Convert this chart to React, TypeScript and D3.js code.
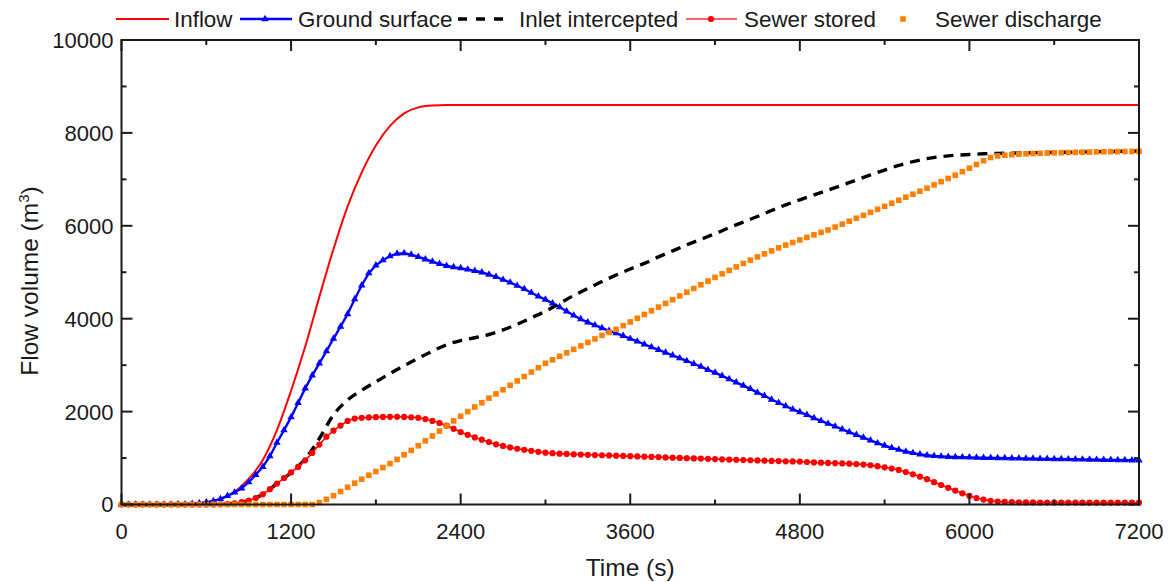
import React from 'react';
import * as d3 from 'd3';

const W = 1169;
const H = 582;

// time grids (s)
const timeFine = d3.range(0, 7201, 50);
const timeCoarse = d3.range(0, 7201, 100);

// Inflow (m3), every 100 s
const inflow = [
  0, 0, 0, 3, 10, 22, 45, 115, 270, 550,
  960, 1600, 2450, 3400, 4470, 5500, 6420, 7150, 7730, 8150,
  8420, 8550, 8590, 8600, 8600, 8600, 8600, 8600, 8600, 8600,
  8600, 8600, 8600, 8600, 8600, 8600, 8600, 8600, 8600, 8600,
  8600, 8600, 8600, 8600, 8600, 8600, 8600, 8600, 8600, 8600,
  8600, 8600, 8600, 8600, 8600, 8600, 8600, 8600, 8600, 8600,
  8600, 8600, 8600, 8600, 8600, 8600, 8600, 8600, 8600, 8600,
  8600, 8600, 8600,
];

// Inlet intercepted (m3), every 100 s
const inletIntercepted = [
  0, 0, 0, 0, 0, 0, 2, 10, 25, 85,
  220, 450, 690, 980, 1420, 1930, 2250, 2460, 2640, 2820,
  2990, 3150, 3300, 3440, 3530, 3590, 3660, 3760, 3880, 4020,
  4160, 4330, 4500, 4650, 4800, 4940, 5070, 5190, 5330, 5460,
  5590, 5710, 5830, 5960, 6080, 6200, 6330, 6450, 6560, 6665,
  6770, 6875, 6985, 7095, 7200, 7300, 7380, 7445, 7490, 7518,
  7535, 7550, 7560, 7565, 7570, 7575, 7580, 7585, 7590, 7595,
  7600, 7605, 7610,
];

// Ground surface (m3), every 50 s
const groundSurface = [
  0, 0, 0, 0, 0, 0, 0, 0, 2, 6,
  15, 30, 50, 75, 120, 185, 260, 350, 480, 640,
  810, 1040, 1330, 1600, 1880, 2190, 2500, 2780, 3040, 3300,
  3570, 3830, 4100, 4420, 4720, 4980, 5150, 5260, 5350, 5400,
  5410, 5380, 5330, 5280, 5230, 5180, 5140, 5110, 5090, 5060,
  5030, 5000, 4950, 4900, 4840, 4780, 4710, 4640, 4560, 4480,
  4410, 4330, 4250, 4160, 4070, 3990, 3920, 3860, 3800, 3740,
  3690, 3630, 3570, 3510, 3450, 3390, 3330, 3270, 3210, 3150,
  3090, 3030, 2970, 2900, 2840, 2770, 2700, 2630, 2560, 2490,
  2410, 2340, 2260, 2190, 2120, 2050, 1990, 1930, 1860, 1800,
  1740, 1680, 1620, 1560, 1500, 1440, 1380, 1320, 1270, 1220,
  1180, 1140, 1110, 1080, 1060, 1045, 1035, 1028, 1022, 1018,
  1014, 1010, 1006, 1003, 1000, 998, 995, 993, 990, 988,
  985, 983, 980, 978, 975, 973, 970, 968, 965, 962,
  960, 957, 955, 952, 950,
];

// Sewer stored (m3), every 50 s
const sewerStored = [
  0, 0, 0, 0, 0, 0, 0, 0, 0, 0,
  0, 0, 0, 2, 5, 10, 25, 50, 85, 140,
  220, 330, 450, 570, 690, 810, 950, 1110, 1290, 1460,
  1590, 1700, 1800, 1850, 1865, 1875, 1880, 1885, 1888, 1888,
  1885, 1878, 1866, 1840, 1800, 1755, 1700, 1630, 1560, 1500,
  1445, 1395, 1345, 1295, 1260, 1228, 1200, 1178, 1155, 1133,
  1115, 1105, 1095, 1088, 1080, 1075, 1070, 1065, 1060, 1056,
  1052, 1046, 1040, 1035, 1030, 1025, 1020, 1014, 1008, 1003,
  998, 993, 988, 983, 978, 973, 968, 963, 958, 953,
  948, 943, 938, 934, 930, 927, 924, 915, 905, 900,
  895, 890, 885, 878, 870, 860, 845, 825, 800, 775,
  745, 700, 650, 600, 545, 480, 420, 360, 300, 240,
  185, 140, 105, 80, 65, 55, 50, 47, 45, 44,
  43, 42, 42, 41, 41, 41, 40, 40, 40, 40,
  40, 40, 40, 40, 40,
];

// Sewer discharge (m3), every 50 s
const sewerDischarge = [
  0, 0, 0, 0, 0, 0, 0, 0, 0, 0,
  0, 0, 0, 0, 0, 0, 0, 0, 0, 0,
  0, 0, 0, 0, 0, 0, 0, 0, 40, 110,
  190, 280, 370, 460, 545, 630, 710, 795, 880, 970,
  1070, 1165, 1265, 1370, 1475, 1580, 1690, 1800, 1900, 2000,
  2100, 2190, 2290, 2380, 2470, 2565, 2660, 2755, 2850, 2945,
  3040, 3115, 3190, 3265, 3340, 3415, 3490, 3565, 3640, 3705,
  3770, 3850, 3930, 4010, 4090, 4170, 4250, 4330, 4410, 4490,
  4570, 4650, 4730, 4810, 4890, 4965, 5040, 5115, 5190, 5260,
  5330, 5395, 5460, 5525, 5585, 5640, 5695, 5750, 5805, 5858,
  5910, 5973, 6036, 6099, 6162, 6225, 6290, 6355, 6420, 6485,
  6550, 6615, 6680, 6745, 6810, 6880, 6950, 7020, 7090, 7165,
  7240, 7320, 7400, 7470, 7505, 7520, 7532, 7542, 7550, 7556,
  7561, 7566, 7570, 7574, 7578, 7582, 7585, 7588, 7591, 7594,
  7596, 7598, 7600, 7602, 7604,
];

const xTicks = [0, 1200, 2400, 3600, 4800, 6000, 7200];
const xMinorTicks = [600, 1800, 3000, 4200, 5400, 6600];
const yTicks = [0, 2000, 4000, 6000, 8000, 10000];
const yMinorTicks = [1000, 3000, 5000, 7000, 9000];
const legendLabels = ['Inflow', 'Ground surface', 'Inlet intercepted', 'Sewer stored', 'Sewer discharge'];

const FONT = '"Liberation Sans", Arial, Helvetica, sans-serif';
const TEXT = '#1a1a1a';
const AXIS = '#1a1a1a';
const RED = '#ff0000';
const BLUE = '#0000ff';
const ORANGE = '#ff8000';

export default function App() {
  const left = 121.5, right = 1139, top = 40, bottom = 504.5;
  const x = d3.scaleLinear().domain([0, 7200]).range([left, right]);
  const y = d3.scaleLinear().domain([0, 10000]).range([bottom, top]);

  const zip = (t: number[], v: number[]) => t.map((tt, i) => [tt, v[i]] as [number, number]);
  const inflowPts = zip(timeCoarse, inflow);
  const inletPts = zip(timeCoarse, inletIntercepted);
  const groundPts = zip(timeFine, groundSurface);
  const storedPts = zip(timeFine, sewerStored);
  const dischargePts = zip(timeFine, sewerDischarge);

  const smooth = d3.line<[number, number]>().x(d => x(d[0])).y(d => y(d[1])).curve(d3.curveMonotoneX);
  const straight = d3.line<[number, number]>().x(d => x(d[0])).y(d => y(d[1]));
  const tri = d3.symbol().type(d3.symbolTriangle).size(24)() as string;

  const majorLen = 11, minorLen = 5;
  const legY = 19;
  const legBase = 27;

  return (
    <svg width={W} height={H} style={{ position: 'absolute', left: 0, top: 0, background: '#fff' }}
      fontFamily={FONT}>
      <rect x={0} y={0} width={W} height={H} fill="#fff" />

      {/* series */}
      <path d={smooth(inflowPts) as string} fill="none" stroke={RED} strokeWidth={2} />
      <path d={straight(groundPts) as string} fill="none" stroke={BLUE} strokeWidth={2.4} />
      {groundPts.map((d, i) => (
        <path key={'g' + i} d={tri} transform={`translate(${x(d[0])},${y(d[1])})`} fill={BLUE} />
      ))}
      <path d={smooth(inletPts) as string} fill="none" stroke="#000" strokeWidth={3.4} strokeDasharray="10,7" />
      <path d={straight(storedPts) as string} fill="none" stroke={RED} strokeWidth={1.5} />
      {storedPts.map((d, i) => (
        <circle key={'s' + i} cx={x(d[0])} cy={y(d[1])} r={3.1} fill={RED} />
      ))}
      {dischargePts.map((d, i) => (
        <rect key={'d' + i} x={x(d[0]) - 2.8} y={y(d[1]) - 2.8} width={5.6} height={5.6} fill={ORANGE} />
      ))}

      {/* frame */}
      <rect x={left} y={top} width={right - left} height={bottom - top} fill="none" stroke={AXIS} strokeWidth={2} />
      {xTicks.map(t => (
        <g key={'xt' + t}>
          <line x1={x(t)} x2={x(t)} y1={bottom} y2={bottom - majorLen} stroke={AXIS} strokeWidth={2} />
          <line x1={x(t)} x2={x(t)} y1={top} y2={top + majorLen} stroke={AXIS} strokeWidth={2} />
          <text x={x(t)} y={538.5} textAnchor="middle" fontSize={22} fill={TEXT}>{t}</text>
        </g>
      ))}
      {xMinorTicks.map(t => (
        <g key={'xm' + t}>
          <line x1={x(t)} x2={x(t)} y1={bottom} y2={bottom - minorLen} stroke={AXIS} strokeWidth={2} />
          <line x1={x(t)} x2={x(t)} y1={top} y2={top + minorLen} stroke={AXIS} strokeWidth={2} />
        </g>
      ))}
      {yTicks.map(v => (
        <g key={'yt' + v}>
          <line x1={left} x2={left + majorLen} y1={y(v)} y2={y(v)} stroke={AXIS} strokeWidth={2} />
          <line x1={right} x2={right - majorLen} y1={y(v)} y2={y(v)} stroke={AXIS} strokeWidth={2} />
          <text x={113.5} y={y(v) + 7.9} textAnchor="end" fontSize={22} fill={TEXT}>{v}</text>
        </g>
      ))}
      {yMinorTicks.map(v => (
        <g key={'ym' + v}>
          <line x1={left} x2={left + minorLen} y1={y(v)} y2={y(v)} stroke={AXIS} strokeWidth={2} />
          <line x1={right} x2={right - minorLen} y1={y(v)} y2={y(v)} stroke={AXIS} strokeWidth={2} />
        </g>
      ))}

      {/* axis titles */}
      <text x={(left + right) / 2} y={576} textAnchor="middle" fontSize={24.5} fill={TEXT}>Time (s)</text>
      <text transform="translate(38,281) rotate(-90)" textAnchor="middle" fontSize={24.5} fill={TEXT}>
        Flow volume (m<tspan fontSize={15} dy={-9}>3</tspan><tspan dy={9}>)</tspan>
      </text>

      {/* legend */}
      <g fontSize={22.4} fill={TEXT}>
        <line x1={116} x2={169} y1={legY} y2={legY} stroke={RED} strokeWidth={2} />
        <text x={174} y={legBase}>{legendLabels[0]}</text>

        <line x1={240} x2={292} y1={legY} y2={legY} stroke={BLUE} strokeWidth={2.4} />
        <path d={tri} transform={`translate(265,${legY})`} fill={BLUE} />
        <text x={298} y={legBase}>{legendLabels[1]}</text>

        <line x1={458} x2={503} y1={legY} y2={legY} stroke="#000" strokeWidth={3.4} strokeDasharray="9,9" />
        <text x={519} y={legBase}>{legendLabels[2]}</text>

        <line x1={686} x2={737} y1={legY} y2={legY} stroke={RED} strokeWidth={1.5} opacity={0.8} />
        <circle cx={711} cy={legY} r={3.1} fill={RED} />
        <text x={744} y={legBase}>{legendLabels[3]}</text>

        <rect x={903 - 2.8} y={legY - 2.8} width={5.6} height={5.6} fill={ORANGE} />
        <text x={935} y={legBase}>{legendLabels[4]}</text>
      </g>
    </svg>
  );
}
